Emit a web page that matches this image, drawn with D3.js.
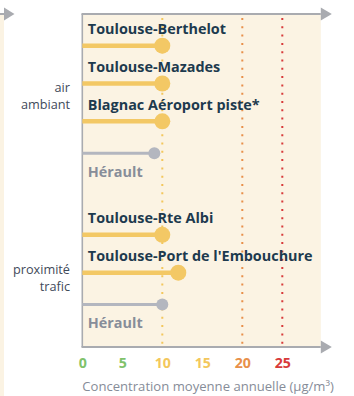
<!DOCTYPE html>
<html>
<head>
<meta charset="utf-8">
<script src="https://cdn.jsdelivr.net/npm/d3@7"></script>
<style>
  html, body { margin: 0; padding: 0; background: #ffffff; }
  svg { display: block; font-family: "Open Sans", sans-serif; }
</style>
</head>
<body>
<svg id="chart" width="354" height="396"></svg>
<script>
// Stations, in drawing order (the empty slot separates the two groups)
const rowKeys   = ["berthelot", "mazades", "blagnac", "herault1", "gap", "albi", "embouchure", "herault2"];
const stations  = ["Toulouse-Berthelot", "Toulouse-Mazades", "Blagnac Aéroport piste*", "Hérault",
                   "Toulouse-Rte Albi", "Toulouse-Port de l'Embouchure", "Hérault"];
const stationRows = ["berthelot", "mazades", "blagnac", "herault1", "albi", "embouchure", "herault2"];
const values    = [10, 10, 10, 9, 10, 12, 10];
const isRegion  = [false, false, false, true, false, false, true];

// Groups of stations
const groupLabels = [["air", "ambiant"], ["proximité", "trafic"]];
const groupRows   = ["mazades", "embouchure"];

// Axis
const tickValues = [0, 5, 10, 15, 20, 25];
const tickColors = ["#7fc26b", "#7fc26b", "#f3c75c", "#f3c75c", "#e8904a", "#d83a3a"];
const refLines   = [10, 20, 25];
const refColors  = ["#f3c75c", "#e8904a", "#d83a3a"];
const axisTitle  = "Concentration moyenne annuelle (µg/m³)";

const svg = d3.select("#chart");
const plotTop = 14, plotBottom = 347;
const beige = "#fbf3e3", axisGrey = "#a9abb0";

const x = d3.scaleLinear().domain([0, 30]).range([82.3, 322.3]);
const y = d3.scalePoint().domain(rowKeys).range([45.7, 310.5]);

// neighbouring panel edge on the far left
svg.append("rect").attr("x", 0).attr("y", plotTop).attr("width", 4).attr("height", 396 - plotTop).attr("fill", beige);
svg.append("line").attr("x1", 0).attr("x2", 5).attr("y1", plotTop).attr("y2", plotTop)
  .attr("stroke", axisGrey).attr("stroke-width", 2);
svg.append("path").attr("d", `M4,${plotTop - 6.5}L14.5,${plotTop}L4,${plotTop + 6.5}Z`).attr("fill", axisGrey);

// plot background
svg.append("rect").attr("x", x(0)).attr("y", plotTop)
  .attr("width", x(30) - x(0) - 1.5).attr("height", plotBottom - plotTop).attr("fill", beige);

// reference thresholds
svg.selectAll("line.ref").data(refLines).join("line")
  .attr("class", "ref")
  .attr("x1", d => x(d)).attr("x2", d => x(d))
  .attr("y1", plotTop + 4).attr("y2", plotBottom)
  .attr("stroke", (d, i) => refColors[i])
  .attr("stroke-width", 2)
  .attr("stroke-dasharray", "2,6.3");

// frame: left axis, top and bottom arrows
const xEnd = x(30) - 1.5;
svg.append("line").attr("x1", x(0)).attr("x2", x(0)).attr("y1", plotTop).attr("y2", plotBottom)
  .attr("stroke", axisGrey).attr("stroke-width", 1.6);
[plotTop, plotBottom].forEach(yy => {
  svg.append("line").attr("x1", x(0) - 0.8).attr("x2", xEnd).attr("y1", yy).attr("y2", yy)
    .attr("stroke", axisGrey).attr("stroke-width", 2);
  svg.append("path").attr("d", `M${xEnd},${yy - 6.5}L${xEnd + 11},${yy}L${xEnd},${yy + 6.5}Z`)
    .attr("fill", axisGrey);
});

// lollipops
const rows = stations.map((name, i) => ({
  name, value: values[i], region: isRegion[i], key: stationRows[i]
}));
const lineY = d => y(d.key) - (d.region ? 6 : 0);

const g = svg.append("g");
g.selectAll("line.stem").data(rows).join("line")
  .attr("class", "stem")
  .attr("x1", x(0)).attr("x2", d => x(d.value))
  .attr("y1", lineY).attr("y2", lineY)
  .attr("stroke", d => d.region ? "#b3b6bf" : "#f3c865")
  .attr("stroke-width", d => d.region ? 3 : 4.5);
g.selectAll("circle.dot").data(rows).join("circle")
  .attr("class", "dot")
  .attr("cx", d => x(d.value)).attr("cy", lineY)
  .attr("r", d => d.region ? 6 : 8)
  .attr("fill", d => d.region ? "#b3b6bf" : "#f3c865");
g.selectAll("text.name").data(rows).join("text")
  .attr("class", "name")
  .attr("x", x(0) + 5.5)
  .attr("y", d => d.region ? lineY(d) + 18.5 : lineY(d) - 16.5)
  .attr("dy", "0.35em")
  .attr("font-size", 14.4).attr("font-weight", 700)
  .attr("fill", d => d.region ? "#878d99" : "#1d3a4e")
  .text(d => d.name);

// group labels
const groupOffsets = [12.5, 5.5];
groupLabels.forEach((lines, i) => {
  const cy = y(groupRows[i]) + groupOffsets[i];
  const t = svg.append("text").attr("x", 70).attr("text-anchor", "end")
    .attr("font-size", 12.7).attr("fill", "#3f4a5a");
  lines.forEach((l, j) => {
    t.append("tspan").attr("x", 70).attr("y", cy + (j - 0.5) * 16.5).attr("dy", "0.35em").text(l);
  });
});

// x axis tick labels
const xAxis = d3.axisBottom(x).tickValues(tickValues).tickSize(0).tickPadding(0);
const ax = svg.append("g").attr("transform", `translate(0,${plotBottom})`).call(xAxis);
ax.select(".domain").remove();
ax.selectAll("text")
  .attr("y", 16).attr("dy", "0.35em")
  .attr("font-family", "Open Sans, sans-serif")
  .attr("font-size", 14.2).attr("font-weight", 700)
  .attr("fill", (d, i) => tickColors[i]);

svg.append("text").attr("x", x(0)).attr("y", 386).attr("dy", "0.35em")
  .attr("font-size", 13.1).attr("fill", "#868c98")
  .text(axisTitle);
</script>
</body>
</html>
